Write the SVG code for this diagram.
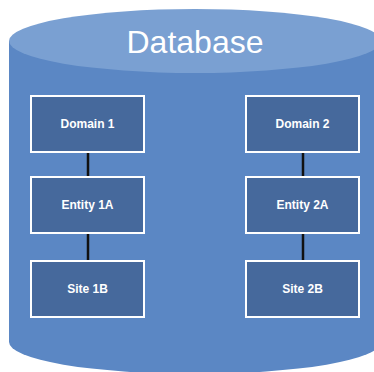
<svg xmlns="http://www.w3.org/2000/svg" width="374" height="372" viewBox="0 0 374 372">
  <style>
    .node rect { fill: #46699c; stroke: #ffffff; stroke-width: 2; }
    .node text { fill: #ffffff; font-family: "Liberation Sans", Arial, sans-serif; font-size: 12px; font-weight: bold; text-anchor: middle; }
    .link { stroke: #111111; stroke-width: 2.5; fill: none; }
  </style>
  <rect width="374" height="372" fill="#ffffff"/>
  <!-- database cylinder -->
  <g id="database">
    <path d="M9,41 L9,342 A186,32 0 0 0 381,342 L381,41 Z" fill="#5b87c4"/>
    <ellipse cx="195" cy="41" rx="186" ry="32" fill="#7aa0d2"/>
    <text x="195" y="53" fill="#ffffff" font-family="Liberation Sans, Arial, sans-serif" font-size="32" text-anchor="middle">Database</text>
  </g>
  <!-- connectors -->
  <g id="connectors">
    <line class="link" x1="88" y1="152" x2="88" y2="177"/>
    <line class="link" x1="88" y1="233" x2="88" y2="261"/>
    <line class="link" x1="303" y1="152" x2="303" y2="177"/>
    <line class="link" x1="303" y1="233" x2="303" y2="261"/>
  </g>
  <g id="domain1" class="node">
    <rect x="31" y="96" width="113" height="56"/>
    <text x="87.5" y="128">Domain 1</text>
  </g>
  <g id="entity1a" class="node">
    <rect x="31" y="177" width="113" height="56"/>
    <text x="87.5" y="209">Entity 1A</text>
  </g>
  <g id="site1b" class="node">
    <rect x="31" y="261" width="113" height="56"/>
    <text x="87.5" y="293">Site 1B</text>
  </g>
  <g id="domain2" class="node">
    <rect x="246" y="96" width="113" height="56"/>
    <text x="302.5" y="128">Domain 2</text>
  </g>
  <g id="entity2a" class="node">
    <rect x="246" y="177" width="113" height="56"/>
    <text x="302.5" y="209">Entity 2A</text>
  </g>
  <g id="site2b" class="node">
    <rect x="246" y="261" width="113" height="56"/>
    <text x="302.5" y="293">Site 2B</text>
  </g>
</svg>
